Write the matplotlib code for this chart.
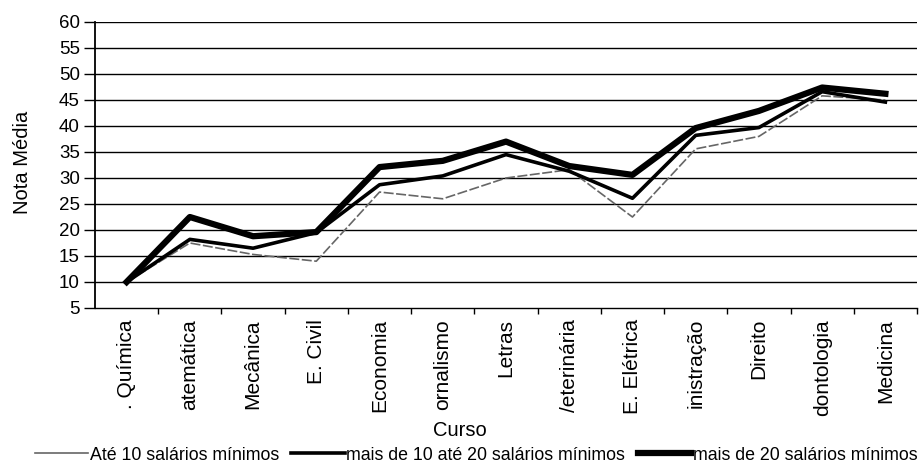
import matplotlib
matplotlib.use("Agg")
import matplotlib.pyplot as plt
from matplotlib.lines import Line2D

plt.rcParams['font.family'] = ['Liberation Sans', 'DejaVu Sans']

cursos = [". Química", "atemática", "Mecânica", "E. Civil", "Economia", "ornalismo",
          "Letras", "/eterinária", "E. Elétrica", "inistração", "Direito", "dontologia", "Medicina"]
ate10 = [10, 17.5, 15.3, 14.0, 27.3, 26.0, 30.0, 31.6, 22.5, 35.6, 38.0, 45.8, 45.0]
de10a20 = [10, 18.2, 16.5, 19.5, 28.7, 30.4, 34.5, 31.3, 26.1, 38.2, 39.7, 46.6, 44.6]
mais20 = [10, 22.5, 18.8, 19.6, 32.1, 33.3, 37.0, 32.3, 30.6, 39.6, 42.9, 47.4, 46.2]
legend_labels = ["Até 10 salários mínimos", "mais de 10 até 20 salários mínimos",
                 "mais de 20 salários mínimos"]
yticks = list(range(5, 65, 5))

fig = plt.figure(figsize=(9.21, 4.63), dpi=100)
ax = fig.add_axes([95/921, 1-308/463, 822/921, (308-22)/463])

x = list(range(len(cursos)))
ax.plot(x, ate10, color='#666666', lw=1.2, ls=(0, (6, 1.5)), zorder=3)
ax.plot(x, de10a20, color='black', lw=2.6, zorder=4)
ax.plot(x, mais20, color='black', lw=4.5, zorder=5)

ax.set_ylim(5, 60)
ax.set_xlim(-0.5, len(cursos)-0.5)
ax.set_yticks(yticks)
ax.set_yticklabels([str(v) for v in yticks], fontsize=13.5)
for v in yticks[1:]:
    ax.axhline(v, color='black', lw=1.0, zorder=1)

ax.set_xticks(x)
ax.set_xticklabels(cursos, rotation=90, fontsize=15, va='top', ha='center')
ax.set_xticks([i - 0.5 for i in range(1, len(cursos)+1)], minor=True)
ax.tick_params(axis='x', which='major', length=0, pad=8)
ax.tick_params(axis='x', which='minor', length=4, width=1, direction='out')
ax.tick_params(axis='y', length=8, width=1, direction='out', pad=3)

for s in ['top', 'right']:
    ax.spines[s].set_visible(False)
ax.spines['left'].set_linewidth(1.3)
ax.spines['bottom'].set_linewidth(1.0)

fig.text(22/921, 1-162/463, "Nota Média", rotation=90, fontsize=14.5, ha='center', va='center')
fig.text(460/921, 1-430/463, "Curso", fontsize=14.5, ha='center', va='center')

handles = [Line2D([], [], color='#666666', lw=1.2),
           Line2D([], [], color='black', lw=2.6),
           Line2D([], [], color='black', lw=4.5)]
fig.legend(handles, legend_labels, loc='center', bbox_to_anchor=(476/921, 1-455/463),
           ncol=3, frameon=False, fontsize=12.8, handlelength=3.0, handletextpad=0.1,
           columnspacing=0.7, borderpad=0)

fig.savefig("out.png", dpi=100)
